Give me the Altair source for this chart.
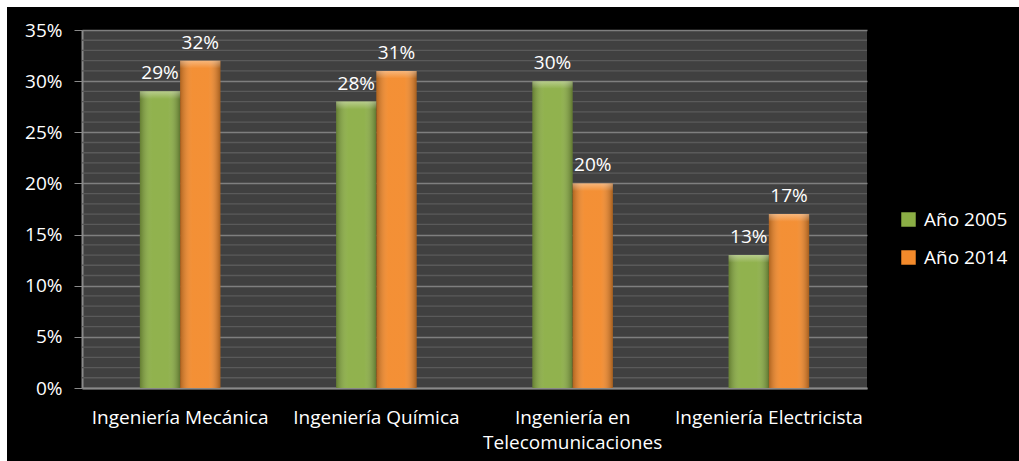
import altair as alt
import pandas as pd

categories = ["Ingeniería Mecánica", "Ingeniería Química",
              "Ingeniería en|Telecomunicaciones", "Ingeniería Electricista"]
years = ["Año 2005", "Año 2014"]
v2005 = [29, 28, 30, 13]
v2014 = [32, 31, 20, 17]
y_ticks = [0, 5, 10, 15, 20, 25, 30, 35]
minor_ticks = [1, 2, 3, 4, 6, 7, 8, 9, 11, 12, 13, 14, 16, 17, 18, 19,
               21, 22, 23, 24, 26, 27, 28, 29, 31, 32, 33, 34]
colors = ["#8bae45", "#f38a2b"]

rows = []
for c, a, b in zip(categories, v2005, v2014):
    rows.append({"category": c, "year": years[0], "value": a})
    rows.append({"category": c, "year": years[1], "value": b})
df = pd.DataFrame(rows)

FONT = "Open Sans"
FS = 19
W, H = 785, 358

xenc = alt.X("category:N", sort=categories,
             scale=alt.Scale(paddingInner=0.59, paddingOuter=0.295),
             axis=alt.Axis(title=None, labelAngle=0, ticks=False, grid=False,
                           labelExpr="split(datum.label, '|')",
                           labelPadding=20, labelLineHeight=25, labelLimit=400,
                           labelFontSize=FS, labelFont=FONT, labelColor="white",
                           domainColor="#8a8a8a", domainWidth=2))
xoff = alt.XOffset("year:N", sort=years, scale=alt.Scale(paddingInner=0, paddingOuter=0))
yenc = alt.Y("value:Q", scale=alt.Scale(domain=[0, 35], nice=False),
             axis=alt.Axis(title=None, values=y_ticks, labelExpr="datum.value + '%'",
                           tickSize=8, labelPadding=12,
                           labelFontSize=FS, labelFont=FONT, labelColor="white",
                           domainColor="#8a8a8a", tickColor="#8a8a8a", domainWidth=2,
                           gridColor="#7f7f7f", gridWidth=1.5))

minor = alt.Chart(pd.DataFrame({"v": minor_ticks})).mark_rule(
    color="#5a5a5a", strokeWidth=1.3).encode(y=alt.Y("v:Q"))

bars = alt.Chart(df).mark_bar().encode(
    x=xenc, xOffset=xoff, y=yenc,
    color=alt.Color("year:N", sort=years,
                    scale=alt.Scale(domain=years, range=colors),
                    legend=alt.Legend(title=None, orient="none", legendX=817, legendY=180,
                                      symbolType="square", symbolSize=210,
                                      symbolStrokeWidth=0, labelFontSize=FS,
                                      labelColor="white", labelFont=FONT,
                                      rowPadding=18, labelOffset=6)))

shade = alt.Chart(df).mark_bar(
    fill=alt.LinearGradient(gradient="linear", x1=0, x2=1, y1=0, y2=0, stops=[
        alt.GradientStop(color="rgba(0,0,0,0.28)", offset=0),
        alt.GradientStop(color="rgba(255,255,255,0.05)", offset=0.3),
        alt.GradientStop(color="rgba(255,255,255,0.05)", offset=0.7),
        alt.GradientStop(color="rgba(0,0,0,0.32)", offset=1)])
).encode(x=xenc, xOffset=xoff, y=yenc)

top = alt.Chart(df).transform_calculate(low="datum.value - 0.75").mark_bar(
    fill=alt.LinearGradient(gradient="linear", x1=0, x2=0, y1=0, y2=1, stops=[
        alt.GradientStop(color="rgba(255,255,255,0.35)", offset=0),
        alt.GradientStop(color="rgba(255,255,255,0.0)", offset=1)])
).encode(x=xenc, xOffset=xoff, y=yenc, y2=alt.Y2("low:Q"))

labels = alt.Chart(df).transform_calculate(lab="datum.value + '%'").mark_text(
    color="white", fontSize=FS, font=FONT, baseline="alphabetic", dy=-12
).encode(x=xenc, xOffset=xoff, y=yenc, text="lab:N")

strip_top = alt.Chart(pd.DataFrame({"a": [0]})).mark_rect(color="white").encode(
    x=alt.value(-82), x2=alt.value(W + 152), y=alt.value(-30), y2=alt.value(-23))
strip_left = alt.Chart(pd.DataFrame({"a": [0]})).mark_rect(color="white").encode(
    x=alt.value(-82), x2=alt.value(-75), y=alt.value(-30), y2=alt.value(H + 73))

chart = alt.layer(minor, bars, shade, top, labels, strip_top, strip_left).properties(
    width=W, height=H, background="black",
    padding={"left": 82, "top": 30, "right": 152, "bottom": 73},
    autosize=alt.AutoSizeParams(type="none"),
).configure_view(fill="#404040", stroke=None)

chart.save("out.html", embed_options={"renderer": "svg", "actions": False})
